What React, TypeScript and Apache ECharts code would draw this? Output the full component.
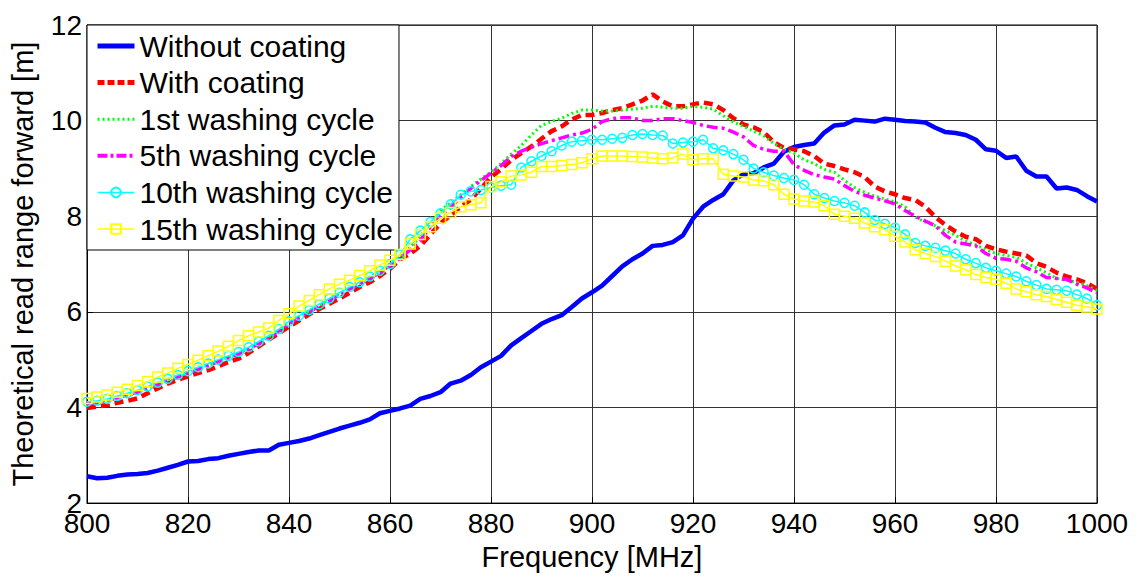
import React, { useEffect, useRef } from "react";
import * as echarts from "echarts";

const freq: number[] = [];
for (let f = 800; f <= 1000; f += 2) freq.push(f);

const withoutCoating = [
  2.56, 2.52, 2.53, 2.57, 2.60, 2.61, 2.63, 2.68, 2.74, 2.80,
  2.87, 2.88, 2.92, 2.94, 2.99, 3.03, 3.07, 3.10, 3.10, 3.22,
  3.26, 3.30, 3.35, 3.42, 3.49, 3.56, 3.62, 3.68, 3.75, 3.88,
  3.93, 3.98, 4.04, 4.18, 4.24, 4.32, 4.50, 4.56, 4.68, 4.84,
  4.96, 5.08, 5.30, 5.45, 5.60, 5.75, 5.85, 5.93, 6.10, 6.28,
  6.41, 6.55, 6.75, 6.95, 7.10, 7.22, 7.38, 7.40, 7.46, 7.60,
  7.95, 8.20, 8.34, 8.46, 8.75, 8.88, 8.90, 9.02, 9.10, 9.35,
  9.45, 9.49, 9.52, 9.75, 9.90, 9.92, 10.02, 10.00, 9.98, 10.04,
  10.02, 9.99, 9.98, 9.96, 9.85, 9.76, 9.74, 9.70, 9.60, 9.40,
  9.37, 9.22, 9.25, 8.95, 8.83, 8.83, 8.58, 8.60, 8.55, 8.42,
  8.31,
];

const withCoating = [
  3.99, 4.02, 4.05, 4.10, 4.14, 4.19, 4.30, 4.40, 4.50, 4.58,
  4.65, 4.72, 4.78, 4.86, 4.95, 5.02, 5.14, 5.28, 5.42, 5.55,
  5.69, 5.82, 5.95, 6.06, 6.17, 6.28, 6.40, 6.52, 6.62, 6.75,
  6.90, 7.10, 7.22, 7.38, 7.62, 7.85, 8.02, 8.20, 8.35, 8.58,
  8.82, 8.98, 9.18, 9.32, 9.46, 9.62, 9.78, 9.88, 10.02, 10.12,
  10.12, 10.16, 10.22, 10.26, 10.34, 10.42, 10.55, 10.40, 10.30, 10.30,
  10.34, 10.38, 10.34, 10.22, 10.05, 9.92, 9.86, 9.76, 9.55, 9.43,
  9.40, 9.36, 9.26, 9.10, 9.05, 8.98, 8.92, 8.82, 8.62, 8.52,
  8.46, 8.38, 8.34, 8.20, 7.98, 7.82, 7.68, 7.57, 7.52, 7.38,
  7.31, 7.26, 7.22, 7.18, 7.02, 6.94, 6.82, 6.74, 6.68, 6.60,
  6.48,
];

const wash1 = [
  4.08, 4.10, 4.14, 4.20, 4.26, 4.32, 4.40, 4.50, 4.58, 4.66,
  4.72, 4.80, 4.88, 4.96, 5.05, 5.12, 5.24, 5.36, 5.48, 5.62,
  5.78, 5.90, 6.02, 6.14, 6.26, 6.38, 6.50, 6.60, 6.72, 6.85,
  7.00, 7.15, 7.35, 7.58, 7.85, 8.12, 8.28, 8.45, 8.62, 8.78,
  8.92, 9.10, 9.30, 9.48, 9.70, 9.90, 9.98, 10.05, 10.15, 10.22,
  10.22, 10.20, 10.20, 10.22, 10.24, 10.26, 10.30, 10.28, 10.26, 10.26,
  10.30, 10.28, 10.24, 10.10, 9.97, 9.88, 9.78, 9.68, 9.52, 9.40,
  9.32, 9.18, 9.10, 8.98, 8.92, 8.75, 8.60, 8.50, 8.42, 8.36,
  8.30, 8.20, 7.98, 7.88, 7.80, 7.70, 7.60, 7.48, 7.40, 7.30,
  7.22, 7.18, 7.14, 7.02, 6.92, 6.82, 6.70, 6.66, 6.62, 6.55,
  6.45,
];

const wash5 = [
  4.08, 4.10, 4.15, 4.20, 4.26, 4.32, 4.40, 4.48, 4.56, 4.64,
  4.72, 4.80, 4.88, 4.96, 5.04, 5.12, 5.22, 5.34, 5.46, 5.60,
  5.76, 5.88, 6.00, 6.12, 6.24, 6.36, 6.48, 6.58, 6.70, 6.82,
  6.98, 7.12, 7.30, 7.50, 7.78, 8.00, 8.18, 8.40, 8.58, 8.75,
  8.90, 9.06, 9.25, 9.36, 9.44, 9.52, 9.58, 9.64, 9.70, 9.74,
  9.82, 9.98, 10.04, 10.06, 10.06, 10.00, 10.00, 10.04, 10.04, 10.00,
  9.96, 9.90, 9.86, 9.84, 9.76, 9.66, 9.48, 9.40, 9.36, 9.36,
  9.08, 8.96, 8.87, 8.82, 8.78, 8.64, 8.52, 8.44, 8.38, 8.32,
  8.26, 8.12, 8.00, 7.90, 7.80, 7.60, 7.46, 7.42, 7.38, 7.22,
  7.12, 7.10, 7.06, 6.92, 6.84, 6.72, 6.70, 6.68, 6.58, 6.50,
  6.40,
];

const wash10 = [
  4.12, 4.14, 4.18, 4.24, 4.30, 4.36, 4.44, 4.52, 4.60, 4.68,
  4.76, 4.84, 4.92, 5.00, 5.08, 5.16, 5.26, 5.38, 5.50, 5.64,
  5.80, 5.92, 6.04, 6.16, 6.28, 6.40, 6.52, 6.62, 6.74, 6.86,
  7.00, 7.20, 7.52, 7.70, 7.88, 8.06, 8.25, 8.45, 8.52, 8.55,
  8.60, 8.64, 8.66, 9.02, 9.15, 9.26, 9.36, 9.48, 9.56, 9.58,
  9.60, 9.60, 9.62, 9.64, 9.70, 9.72, 9.70, 9.69, 9.52, 9.54,
  9.56, 9.60, 9.42, 9.38, 9.30, 9.18, 9.00, 8.92, 8.85, 8.80,
  8.76, 8.66, 8.46, 8.38, 8.32, 8.28, 8.22, 8.08, 7.92, 7.84,
  7.76, 7.62, 7.44, 7.38, 7.34, 7.28, 7.22, 7.10, 7.02, 6.92,
  6.86, 6.80, 6.74, 6.64, 6.56, 6.48, 6.46, 6.44, 6.36, 6.28,
  6.14,
];

const wash15 = [
  4.19, 4.22, 4.26, 4.32, 4.38, 4.46, 4.54, 4.64, 4.72, 4.82,
  4.90, 4.99, 5.08, 5.18, 5.28, 5.40, 5.50, 5.58, 5.66, 5.82,
  5.96, 6.12, 6.24, 6.36, 6.48, 6.58, 6.66, 6.76, 6.86, 6.98,
  7.08, 7.20, 7.42, 7.62, 7.78, 7.96, 8.08, 8.20, 8.24, 8.28,
  8.62, 8.72, 8.84, 8.86, 8.92, 9.04, 9.04, 9.06, 9.08, 9.12,
  9.20, 9.26, 9.26, 9.26, 9.25, 9.24, 9.22, 9.20, 9.22, 9.30,
  9.18, 9.20, 9.20, 8.88, 8.84, 8.82, 8.76, 8.74, 8.66, 8.46,
  8.36, 8.32, 8.30, 8.22, 8.04, 8.00, 7.96, 7.86, 7.78, 7.72,
  7.58, 7.46, 7.30, 7.22, 7.16, 7.06, 6.96, 6.88, 6.78, 6.72,
  6.68, 6.60, 6.48, 6.42, 6.36, 6.32, 6.26, 6.20, 6.14, 6.10,
  6.06,
];

const seriesNames = [
  "Without coating",
  "With coating",
  "1st washing cycle",
  "5th washing cycle",
  "10th washing cycle",
  "15th washing cycle",
];

const FONT = "Liberation Sans, Arial, sans-serif";

function pairs(vals: number[]) {
  return vals.map((v, i) => [freq[i], v]);
}

export default function App() {
  const ref = useRef<HTMLDivElement>(null);
  useEffect(() => {
    if (!ref.current) return;
    const chart = echarts.init(ref.current, undefined, { renderer: "svg" });
    const legendLines: any[] = [
      { color: "#0000ff", width: 5, type: "solid" },
      { color: "#ff0000", width: 5, type: [7, 3] },
      { color: "#00ff00", width: 3, type: [2, 3] },
      { color: "#ff00ff", width: 4, type: [10, 3, 3, 3] },
      { color: "#00ffff", width: 1.5, type: "solid" },
      { color: "#ffff00", width: 1.5, type: "solid" },
    ];
    const legendData = seriesNames.map((n, i) =>
      i < 4
        ? { name: n, itemStyle: { opacity: 0 }, lineStyle: legendLines[i] }
        : { name: n, lineStyle: legendLines[i] }
    );
    const option: any = {
      animation: false,
      backgroundColor: "#ffffff",
      textStyle: { fontFamily: FONT, color: "#000" },
      grid: {
        left: 87,
        top: 25,
        right: 46,
        bottom: 68,
        show: true,
        borderColor: "#000",
        borderWidth: 1,
        backgroundColor: "transparent",
      },
      legend: {
        left: 87,
        top: 25,
        orient: "vertical",
        itemWidth: 37,
        itemHeight: 12,
        itemGap: 6.6,
        itemTextGap: 5,
        padding: [6, 6, 6, 8],
        backgroundColor: "#fff",
        borderColor: "#000",
        borderWidth: 1,
        borderRadius: 0,
        textStyle: { fontFamily: FONT, fontSize: 30, color: "#000", lineHeight: 30 },
        data: legendData,
      },
      xAxis: {
        type: "value",
        min: 800,
        max: 1000,
        interval: 20,
        name: "Frequency [MHz]",
        nameLocation: "middle",
        nameGap: 32,
        nameTextStyle: { fontFamily: FONT, fontSize: 29, color: "#000" },
        axisLine: { show: true, lineStyle: { color: "#000", width: 1 } },
        axisTick: { show: true, inside: true, length: 6, lineStyle: { color: "#000" } },
        axisLabel: {
          fontFamily: FONT,
          fontSize: 28,
          color: "#000",
          margin: 6,
          formatter: (v: number) => String(v),
        },
        splitLine: { show: true, lineStyle: { color: "#333", width: 1 } },
      },
      yAxis: {
        type: "value",
        min: 2,
        max: 12,
        interval: 2,
        name: "Theoretical read range forward [m]",
        nameLocation: "middle",
        nameGap: 50,
        nameTextStyle: { fontFamily: FONT, fontSize: 29, color: "#000" },
        axisLine: { show: true, lineStyle: { color: "#000", width: 1 } },
        axisTick: { show: true, inside: true, length: 6, lineStyle: { color: "#000" } },
        axisLabel: {
          fontFamily: FONT,
          fontSize: 28,
          color: "#000",
          margin: 5,
          formatter: (v: number) => String(v),
        },
        splitLine: { show: true, lineStyle: { color: "#333", width: 1 } },
      },
      series: [
        {
          name: seriesNames[0],
          type: "line",
          data: pairs(withoutCoating),
          symbol: "none",
          lineStyle: { color: "#0000ff", width: 4.5, type: "solid" },
          itemStyle: { color: "#0000ff" },
          z: 2,
        },
        {
          name: seriesNames[1],
          type: "line",
          data: pairs(withCoating),
          symbol: "none",
          lineStyle: { color: "#ff0000", width: 4.5, type: [9, 5] },
          itemStyle: { color: "#ff0000" },
          z: 3,
        },
        {
          name: seriesNames[2],
          type: "line",
          data: pairs(wash1),
          symbol: "none",
          lineStyle: { color: "#00ff00", width: 3, type: [2, 3] },
          itemStyle: { color: "#00ff00" },
          z: 4,
        },
        {
          name: seriesNames[3],
          type: "line",
          data: pairs(wash5),
          symbol: "none",
          lineStyle: { color: "#ff00ff", width: 3.5, type: [11, 4, 3, 4] },
          itemStyle: { color: "#ff00ff" },
          z: 5,
        },
        {
          name: seriesNames[4],
          type: "line",
          data: pairs(wash10),
          symbol: "circle",
          symbolSize: 9,
          showSymbol: true,
          lineStyle: { color: "#00ffff", width: 1.5 },
          itemStyle: { color: "transparent", borderColor: "#00ffff", borderWidth: 1.5 },
          z: 6,
        },
        {
          name: seriesNames[5],
          type: "line",
          data: pairs(wash15),
          symbol: "rect",
          symbolSize: 10,
          showSymbol: true,
          lineStyle: { color: "#ffff00", width: 1.5 },
          itemStyle: { color: "transparent", borderColor: "#ffff00", borderWidth: 1.5 },
          z: 7,
        },
      ],
    };
    chart.setOption(option);
    return () => chart.dispose();
  }, []);
  return (
    <div
      ref={ref}
      style={{ position: "fixed", left: 0, top: 0, width: 1143, height: 576, background: "#fff" }}
    />
  );
}
